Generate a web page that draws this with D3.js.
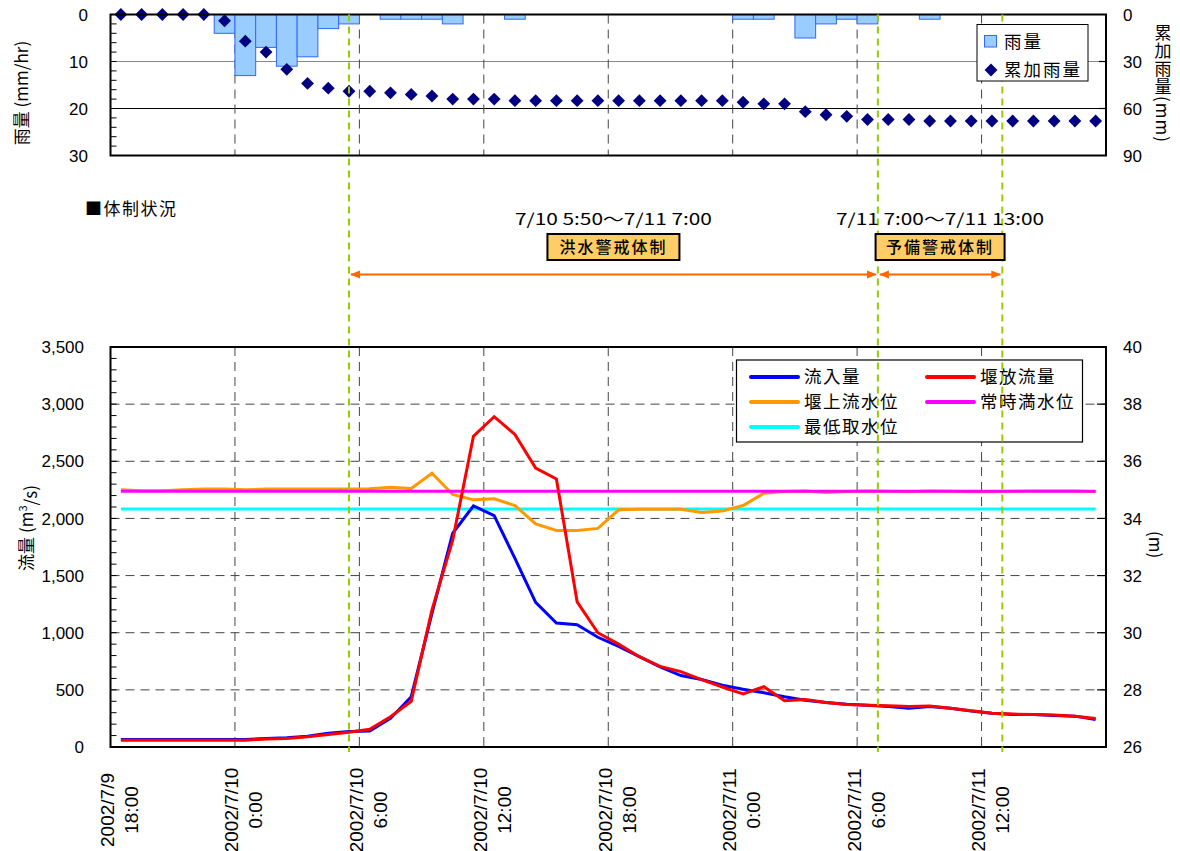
<!DOCTYPE html>
<html><head><meta charset="utf-8">
<script src="https://cdn.jsdelivr.net/npm/d3@7"></script>
<style>body{margin:0;background:#fff}svg{display:block}</style>
</head><body><svg id="c" width="1180" height="851"></svg>
<script>
// ---------- data (hourly categories starting 2002/7/9 18:00) ----------
const rain = [0,0,0,0,0,4,13,7,11,9,3,2,0,1,1,1,2,0,0,1,0,0,0,0,0,0,0,0,0,0,1,1,0,5,2,1,2,0,0,1,0,0,0,0,0,0,0,0];
const cumRain = [0,0,0,0,0,4,17,24,35,44,47,49,49,50,51,52,54,54,54,55,55,55,55,55,55,55,55,55,55,55,56,57,57,62,64,65,67,67,67,68,68,68,68,68,68,68,68,68];
const inflow = [65,65,65,65,65,65,65,75,80,95,120,135,140,250,440,1170,1870,2110,2025,1650,1265,1085,1070,960,880,790,700,625,590,540,505,475,440,410,390,375,365,355,340,355,340,315,295,285,285,275,270,240];
const outflow = [60,60,60,60,60,60,60,70,75,90,110,130,155,265,400,1200,1810,2720,2890,2735,2440,2345,1270,1000,900,790,705,660,590,525,465,528,405,415,390,372,365,360,355,358,340,318,295,288,285,280,270,250];
const upstreamLevel = [35.0,34.97,34.97,35.0,35.03,35.03,35.0,35.03,35.03,35.03,35.03,35.03,35.04,35.09,35.05,35.58,34.84,34.65,34.69,34.45,33.81,33.58,33.58,33.65,34.3,34.32,34.32,34.32,34.21,34.26,34.45,34.88,34.94,34.96,34.91,34.94,34.96,34.95,34.93,34.96,34.95,34.93,34.93,34.95,34.96,34.96,34.96,34.93];
const normalLevel = 34.95;   // 常時満水位
const minIntakeLevel = 34.33; // 最低取水位
const nCats = 48;
const tickCats = [0,6,12,18,24,30,36,42];
const tickDates = ["2002/7/9","2002/7/10","2002/7/10","2002/7/10","2002/7/10","2002/7/11","2002/7/11","2002/7/11"];
const tickTimes = ["18:00","0:00","6:00","12:00","18:00","0:00","6:00","12:00"];
const rainTicks = [0,10,20,30];
const cumTicks = [0,30,60,90];
const flowTicks = [0,500,1000,1500,2000,2500,3000,3500];
const levelTicks = [26,28,30,32,34,36,38,40];
const eventCats = [11.5,37,43]; // 7/10 5:50, 7/11 7:00, 7/11 13:00 (positions as drawn)
const regimeNames = ["洪水警戒体制","予備警戒体制"];
const regimePeriods = ["7/10 5:50～7/11 7:00","7/11 7:00～7/11 13:00"];

// ---------- layout ----------
const svg = d3.select("#c");
const L = 110.5, R = 1106;
const x = d3.scaleLinear().domain([0,nCats]).range([L,R]);
const topT = 14.5, topB = 155.5, botT = 347, botB = 747;
const yRain = d3.scaleLinear().domain([0,30]).range([topT,topB]);
const yCum = d3.scaleLinear().domain([0,90]).range([topT,topB]);
const yFlow = d3.scaleLinear().domain([0,3500]).range([botB,botT]);
const yLev = d3.scaleLinear().domain([26,40]).range([botB,botT]);
const NUM = "'Liberation Sans', Arial, sans-serif";
const JP = "'Noto Sans CJK JP', sans-serif";

const defs = svg.append("defs");
["s","e"].forEach(k=>{
  defs.append("marker").attr("id","ar"+k).attr("viewBox","0 0 10 10").attr("refX",k==="e"?9:1).attr("refY",5)
    .attr("markerWidth",5).attr("markerHeight",5).attr("orient","auto")
    .append("path").attr("d",k==="e"?"M0,1L10,5L0,9Z":"M10,1L0,5L10,9Z").attr("fill","#FF6600");
});

// ================= TOP CHART =================
const gT = svg.append("g");
gT.append("line").attr("x1",L).attr("x2",R).attr("y1",yRain(10)).attr("y2",yRain(10)).attr("stroke","#888").attr("stroke-width",1.2);
gT.append("line").attr("x1",L).attr("x2",R).attr("y1",yRain(20)).attr("y2",yRain(20)).attr("stroke","#000").attr("stroke-width",1.2);
gT.selectAll(".vg").data(tickCats.slice(1)).join("line")
  .attr("x1",d=>x(d)).attr("x2",d=>x(d)).attr("y1",topT).attr("y2",topB)
  .attr("stroke","#444").attr("stroke-width",1).attr("stroke-dasharray","9,6");

// ================= BOTTOM CHART grid =================
const gB = svg.append("g");
gB.selectAll(".hg").data(flowTicks.slice(1,-1)).join("line")
  .attr("x1",L).attr("x2",R).attr("y1",d=>yFlow(d)).attr("y2",d=>yFlow(d))
  .attr("stroke","#444").attr("stroke-width",1).attr("stroke-dasharray","9,6");
gB.selectAll(".vg").data(tickCats.slice(1)).join("line")
  .attr("x1",d=>x(d)).attr("x2",d=>x(d)).attr("y1",botT).attr("y2",botB)
  .attr("stroke","#444").attr("stroke-width",1).attr("stroke-dasharray","9,6");

// bottom legend box
const lg = svg.append("g");
lg.append("rect").attr("x",736.5).attr("y",360).attr("width",346).attr("height",82).attr("fill","#fff").attr("stroke","#000").attr("stroke-width",1.2);
const legItems = [
  {t:"流入量",c:"#0000FF",col:0,row:0},{t:"堰放流量",c:"#FF0000",col:1,row:0},
  {t:"堰上流水位",c:"#FF9900",col:0,row:1},{t:"常時満水位",c:"#FF00FF",col:1,row:1},
  {t:"最低取水位",c:"#00FFFF",col:0,row:2}];
legItems.forEach(d=>{
  const x0 = d.col ? 927 : 751, yy = 377 + d.row*25;
  lg.append("line").attr("x1",x0).attr("x2",x0+47).attr("y1",yy).attr("y2",yy).attr("stroke",d.c).attr("stroke-width",4).attr("stroke-linecap","round");
  lg.append("text").attr("x",x0+53).attr("y",yy).attr("dy","0.36em").attr("font-family",JP).attr("font-size",17.5).attr("letter-spacing",1.5).text(d.t);
});

// ================= green event lines =================
svg.selectAll(".ev").data(eventCats).join("line")
  .attr("x1",d=>x(d)).attr("x2",d=>x(d)).attr("y1",topT).attr("y2",752)
  .attr("stroke","#99CC00").attr("stroke-width",2).attr("stroke-dasharray","7,5");

// ================= top chart marks =================
gT.selectAll(".bar").data(rain).join("rect")
  .attr("x",(d,i)=>x(i)).attr("width",x(1)-x(0)).attr("y",yRain(0)).attr("height",d=>yRain(d)-yRain(0))
  .attr("fill","#99CCFF").attr("stroke","#3366FF").attr("stroke-width",1).attr("display",d=>d>0?null:"none");
const diamond = d3.symbol().type(d3.symbolDiamond2).size(105);
gT.selectAll(".dm").data(cumRain).join("path")
  .attr("d",diamond).attr("transform",(d,i)=>`translate(${x(i+0.5)},${yCum(d)})`).attr("fill","#000080");
gT.append("rect").attr("x",L).attr("y",topT).attr("width",R-L).attr("height",topB-topT).attr("fill","none").attr("stroke","#000").attr("stroke-width",2);
gT.selectAll(".mt").data(d3.range(2,30,2)).join("line")
  .attr("x1",L).attr("x2",L+6).attr("y1",d=>yRain(d)).attr("y2",d=>yRain(d)).attr("stroke","#000").attr("stroke-width",1);
gT.selectAll(".rt").data(cumTicks.slice(1,-1)).join("line")
  .attr("x1",R-7).attr("x2",R).attr("y1",d=>yCum(d)).attr("y2",d=>yCum(d)).attr("stroke","#000").attr("stroke-width",1.2);
gT.selectAll(".ll").data(rainTicks).join("text")
  .attr("x",88).attr("y",d=>yRain(d)).attr("dy","0.36em").attr("text-anchor","end")
  .attr("font-family",NUM).attr("font-size",17).text(d=>d);
gT.selectAll(".rl").data(cumTicks).join("text")
  .attr("x",1123).attr("y",d=>yCum(d)).attr("dy","0.36em")
  .attr("font-family",NUM).attr("font-size",17).text(d=>d);
gT.append("text").attr("transform","translate(22,93) rotate(-90)").attr("text-anchor","middle").attr("dy","0.36em")
  .attr("font-family",JP).attr("font-size",17).text("雨量 (mm/hr)");
gT.append("text").attr("x",1163).attr("y",24).attr("style","writing-mode:vertical-rl")
  .attr("font-family",JP).attr("font-size",17).attr("letter-spacing",1).text("累加雨量(mm)");
// top legend
const tl = svg.append("g");
tl.append("rect").attr("x",977).attr("y",24.5).attr("width",111).attr("height",56.5).attr("fill","#fff").attr("stroke","#000").attr("stroke-width",1);
tl.append("rect").attr("x",984.5).attr("y",35.5).attr("width",12).attr("height",11.5).attr("fill","#99CCFF").attr("stroke","#3366FF");
tl.append("text").attr("x",1004).attr("y",42).attr("dy","0.36em").attr("font-family",JP).attr("font-size",17.5).attr("letter-spacing",2).text("雨量");
tl.append("path").attr("d",diamond).attr("transform","translate(991,70)").attr("fill","#000080");
tl.append("text").attr("x",1004).attr("y",70).attr("dy","0.36em").attr("font-family",JP).attr("font-size",17.5).attr("letter-spacing",2).text("累加雨量");

// ================= regime annotations =================
svg.append("text").attr("x",85).attr("y",209).attr("dy","0.36em").attr("font-family",JP).attr("font-size",17).attr("letter-spacing",1.5).text("■体制状況");
const periodLens = [197,208], boxW = [132,129];
regimeNames.forEach((nm,k)=>{
  const a = x(eventCats[k]), b = x(eventCats[k+1]), cx = (a+b)/2;
  svg.append("text").attr("x",cx).attr("y",219).attr("dy","0.36em").attr("text-anchor","middle")
    .attr("font-family",JP).attr("font-size",16).attr("textLength",periodLens[k]).attr("lengthAdjust","spacingAndGlyphs").text(regimePeriods[k]);
  svg.append("rect").attr("x",cx-boxW[k]/2).attr("y",234).attr("width",boxW[k]).attr("height",26)
    .attr("fill","#FFCC66").attr("stroke","#000").attr("stroke-width",2);
  svg.append("text").attr("x",cx).attr("y",247).attr("dy","0.36em").attr("text-anchor","middle")
    .attr("font-family",JP).attr("font-size",16).attr("font-weight",500).attr("letter-spacing",2).text(nm);
  svg.append("line").attr("x1",a+2).attr("x2",b-2).attr("y1",274.5).attr("y2",274.5)
    .attr("stroke","#FF6600").attr("stroke-width",2).attr("marker-start","url(#ars)").attr("marker-end","url(#are)");
});

// ================= bottom chart lines =================
const lineF = d3.line().x((d,i)=>x(i+0.5)).y(d=>yFlow(d));
const lineW = d3.line().x((d,i)=>x(i+0.5)).y(d=>yLev(d));
const lvNormal = inflow.map(()=>normalLevel), lvMin = inflow.map(()=>minIntakeLevel);
gB.append("path").attr("d",lineW(lvMin)).attr("fill","none").attr("stroke","#00FFFF").attr("stroke-width",3);
gB.append("path").attr("d",lineW(upstreamLevel)).attr("fill","none").attr("stroke","#FF9900").attr("stroke-width",3);
gB.append("path").attr("d",lineW(lvNormal)).attr("fill","none").attr("stroke","#FF00FF").attr("stroke-width",3);
gB.append("path").attr("d",lineF(inflow)).attr("fill","none").attr("stroke","#0000FF").attr("stroke-width",3);
gB.append("path").attr("d",lineF(outflow)).attr("fill","none").attr("stroke","#FF0000").attr("stroke-width",3);
gB.append("rect").attr("x",L).attr("y",botT).attr("width",R-L).attr("height",botB-botT).attr("fill","none").attr("stroke","#000").attr("stroke-width",2);
gB.selectAll(".mt").data(d3.range(100,3500,100)).join("line")
  .attr("x1",L).attr("x2",L+6).attr("y1",d=>yFlow(d)).attr("y2",d=>yFlow(d)).attr("stroke","#000").attr("stroke-width",1);
gB.selectAll(".rt").data(levelTicks.slice(1,-1)).join("line")
  .attr("x1",R-9).attr("x2",R).attr("y1",d=>yLev(d)).attr("y2",d=>yLev(d)).attr("stroke","#000").attr("stroke-width",1.2);
gB.selectAll(".ll").data(flowTicks).join("text")
  .attr("x",84).attr("y",d=>yFlow(d)).attr("dy","0.36em").attr("text-anchor","end")
  .attr("font-family",NUM).attr("font-size",17).text(d=>d3.format(",")(d));
gB.selectAll(".rl").data(levelTicks).join("text")
  .attr("x",1123).attr("y",d=>yLev(d)).attr("dy","0.36em")
  .attr("font-family",NUM).attr("font-size",17).text(d=>d);
const yl = gB.append("text").attr("transform","translate(27,528) rotate(-90)").attr("text-anchor","middle").attr("dy","0.36em")
  .attr("font-family",JP).attr("font-size",17);
yl.append("tspan").text("流量 (m");
yl.append("tspan").attr("font-size",11).attr("dy","-0.6em").text("3");
yl.append("tspan").attr("dy","0.6em").text("/s)");
gB.append("text").attr("x",1156).attr("y",531).attr("style","writing-mode:vertical-rl")
  .attr("font-family",JP).attr("font-size",17).text("(m)");
const xl = gB.selectAll(".xl").data(tickCats).join("g").attr("transform",d=>`translate(${x(d)},810) rotate(-90)`);
xl.append("text").attr("y",-3).attr("dominant-baseline","central").attr("text-anchor","middle")
  .attr("font-family",NUM).attr("font-size",19).text((d,i)=>tickDates[i]);
xl.append("text").attr("y",21).attr("dominant-baseline","central").attr("text-anchor","middle")
  .attr("font-family",NUM).attr("font-size",19).text((d,i)=>tickTimes[i]);
</script></body></html>
